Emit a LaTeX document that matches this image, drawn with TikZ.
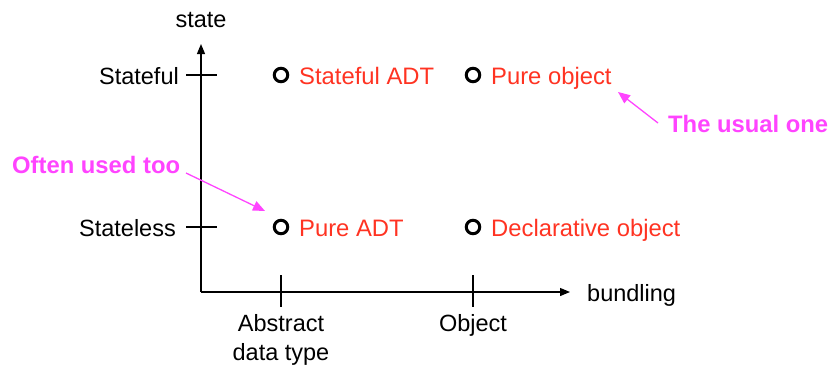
\documentclass[tikz,border=0pt]{standalone}
\usepackage{fontspec}
\setmainfont{Liberation Sans}
\usetikzlibrary{arrows.meta}
\definecolor{itemred}{HTML}{FF3322}
\definecolor{notemag}{HTML}{FF44FF}
\tikzset{
  axis/.style={line width=1.2pt,-{Triangle[length=10pt,width=8pt]}},
  tick/.style={line width=1.2pt},
  lbl/.style={inner sep=0pt,font=\fontsize{23.5}{27}\selectfont,text=black},
  item/.style={inner sep=0pt,font=\fontsize{23.8}{27}\selectfont,text=itemred,anchor=base west},
  dot/.style={circle,draw=black,line width=3pt,minimum size=13.5pt,inner sep=0pt},
  note/.style={inner sep=0pt,font=\fontsize{23.8}{27}\selectfont\bfseries,text=notemag},
  notearrow/.style={draw=notemag,line width=1.3pt,-{Triangle[length=12pt,width=10pt]}}
}
\begin{document}
\begin{tikzpicture}[x=1pt,y=-1pt]
\useasboundingbox (0,0) rectangle (828,368);
% axes
\coordinate (o) at (201,292);
\coordinate (ytop) at (201,44);
\coordinate (xend) at (570,292);
\draw[axis] (o) -- (ytop);
\draw[axis] (o) -- (xend);
% y ticks
\coordinate (t1a) at (186,75); \coordinate (t1b) at (217,75);
\coordinate (t2a) at (186,227); \coordinate (t2b) at (217,227);
\draw[tick] (t1a) -- (t1b);
\draw[tick] (t2a) -- (t2b);
% x ticks
\coordinate (t3a) at (281,275); \coordinate (t3b) at (281,307);
\coordinate (t4a) at (473,275); \coordinate (t4b) at (473,307);
\draw[tick] (t3a) -- (t3b);
\draw[tick] (t4a) -- (t4b);
% axis labels
\node[lbl,anchor=base] (state) at (201,27) {state};
\node[lbl,anchor=base east] (stateful) at (179,84) {Stateful};
\node[lbl,anchor=base east] (stateless) at (176,236) {Stateless};
\node[lbl,anchor=base west] (bundling) at (587,301) {bundling};
\node[lbl,anchor=base] (adt1) at (281,331) {Abstract};
\node[lbl,anchor=base] (adt2) at (281,360) {data type};
\node[lbl,anchor=base] (objl) at (473,331) {Object};
% items
\node[dot] (d1) at (281,75) {};
\node[dot] (d2) at (473,75) {};
\node[dot] (d3) at (281,227) {};
\node[dot] (d4) at (473,227) {};
\node[item] (sadt) at (299,84) {Stateful ADT};
\node[item] (pobj) at (491,84) {Pure object};
\node[item] (padt) at (299,236) {Pure ADT};
\node[item] (dobj) at (491,236) {Declarative object};
% notes
\node[note,anchor=base west] (often) at (12,173) {Often used too};
\node[note,anchor=base west] (usual) at (668,132) {The usual one};
\coordinate (a1s) at (186,173);
\coordinate (a1e) at (265,211);
\coordinate (a2s) at (658,123);
\coordinate (a2e) at (618,92);
\draw[notearrow] (a1s) -- (a1e);
\draw[notearrow] (a2s) -- (a2e);
\end{tikzpicture}
\end{document}
